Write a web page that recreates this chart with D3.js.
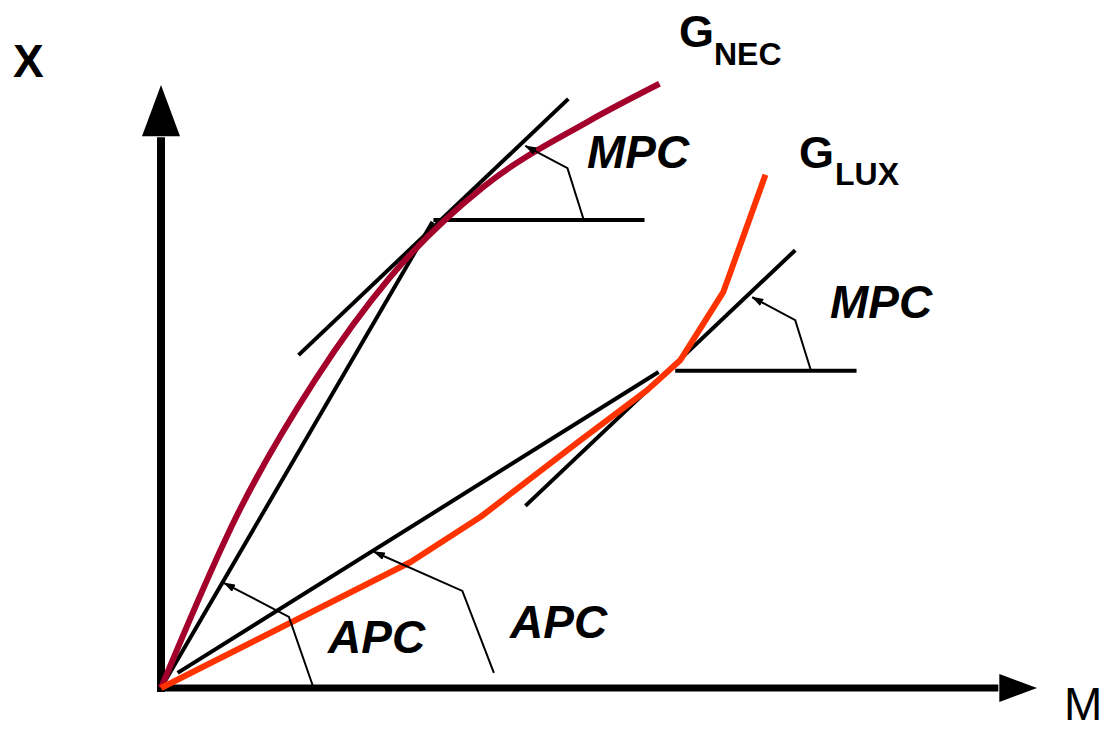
<!DOCTYPE html>
<html>
<head>
<meta charset="utf-8">
<script src="https://cdn.jsdelivr.net/npm/d3@7/dist/d3.min.js"></script>
<style>
  html, body { margin: 0; padding: 0; background: #fff; }
  svg { display: block; font-family: "Liberation Sans", Arial, sans-serif; }
</style>
</head>
<body>
<svg id="chart" width="1113" height="730"></svg>
<script>
/* eslint-env browser */

// Engel curves, M = income (0..100), X = quantity (0..100)
const necM = [0, 8.8, 17.6, 26.2, 36.8, 48.7, 56.9];
const necX = [0, 29.0, 51.1, 68.2, 83.1, 93.9, 100.2];
const luxM = [0, 28.5, 36.5, 47.9, 55.5, 59.3, 64.2, 69.0];
const luxX = [0, 20.9, 28.4, 41.1, 49.4, 54.4, 65.7, 85.1];

// guide segments [[m1, x1], [m2, x2]]
const necRay = [[0, 0], [31.0, 77.3]];
const necTangent = [[15.7, 55.2], [46.5, 97.7]];
const necLevel = [[31.1, 77.6], [55.2, 77.6]];
const luxRay = [[1.9, 2.5], [56.8, 52.4]];
const luxTangent = [[41.6, 30.2], [72.4, 72.6]];
const luxLevel = [[58.7, 52.6], [79.4, 52.6]];

// callout leaders: foot, knee, tip
const leaderMpcNec = [[48.2, 77.9], [46.4, 86.2], [41.6, 89.9]];
const leaderMpcLux = [[74.2, 52.6], [72.4, 61.0], [67.5, 64.8]];
const leaderApcNec = [[17.3, 0.5], [14.6, 11.8], [7.2, 17.4]];
const leaderApcLux = [[38.0, 2.5], [34.4, 16.1], [24.3, 22.6]];

const axisLabels = ['X', 'M'];
const curveNames = ['G', 'NEC', 'G', 'LUX'];
const calloutText = ['MPC', 'MPC', 'APC', 'APC'];

const svg = d3.select('#chart');

/**
 * layout config
 */
const cs = {
  palette: { nec: '#a3002b', lux: '#ff3300', ink: '#000' },
  x: { range: [161, 1037], arrowBase: 95.7, arrowHalf: 14 },
  y: { range: [688, 85], arrowBase: 91.5, arrowHalf: 19 },
};

const x = d3.scaleLinear().domain([0, 100]).range(cs.x.range);
const y = d3.scaleLinear().domain([0, 100]).range(cs.y.range);

const zip = (ms, xs) => ms.map((m, i) => [m, xs[i]]);
const line = d3.line().x(d => x(d[0])).y(d => y(d[1]));

svg.append('defs').append('marker')
  .attr('id', 'tip')
  .attr('viewBox', '0 0 12 8')
  .attr('refX', 11).attr('refY', 4)
  .attr('markerWidth', 12).attr('markerHeight', 8)
  .attr('markerUnits', 'userSpaceOnUse')
  .attr('orient', 'auto')
  .append('path').attr('d', 'M0,0L12,4L0,8z').attr('fill', cs.palette.ink);

// axes
svg.append('line')
  .attr('x1', x(0)).attr('y1', y(0) + 4)
  .attr('x2', x(0)).attr('y2', y(cs.y.arrowBase) + 1)
  .attr('stroke', cs.palette.ink).attr('stroke-width', 8);
svg.append('path')
  .attr('d', `M${x(0)},${y(100)}L${x(0) + cs.y.arrowHalf},${y(cs.y.arrowBase)}L${x(0) - cs.y.arrowHalf},${y(cs.y.arrowBase)}Z`)
  .attr('fill', cs.palette.ink);
svg.append('line')
  .attr('x1', x(0) - 4).attr('y1', y(0))
  .attr('x2', x(cs.x.arrowBase) - 1).attr('y2', y(0))
  .attr('stroke', cs.palette.ink).attr('stroke-width', 7);
svg.append('path')
  .attr('d', `M${x(100)},${y(0)}L${x(cs.x.arrowBase)},${y(0) - cs.x.arrowHalf}L${x(cs.x.arrowBase)},${y(0) + cs.x.arrowHalf}Z`)
  .attr('fill', cs.palette.ink);

// black guides
[necRay, necTangent, necLevel, luxRay, luxTangent, luxLevel].forEach(seg => {
  svg.append('path').attr('d', line(seg))
    .attr('fill', 'none').attr('stroke', cs.palette.ink).attr('stroke-width', 4);
});

// curves
svg.append('path')
  .attr('d', line.curve(d3.curveMonotoneX)(zip(necM, necX)))
  .attr('fill', 'none').attr('stroke', cs.palette.nec).attr('stroke-width', 6)
  .attr('stroke-linejoin', 'round');
svg.append('path')
  .attr('d', line.curve(d3.curveLinear)(zip(luxM, luxX)))
  .attr('fill', 'none').attr('stroke', cs.palette.lux).attr('stroke-width', 6)
  .attr('stroke-linejoin', 'round');

// leaders
[leaderMpcNec, leaderMpcLux, leaderApcNec, leaderApcLux].forEach(pts => {
  svg.append('path').attr('d', line(pts))
    .attr('fill', 'none').attr('stroke', cs.palette.ink).attr('stroke-width', 2)
    .attr('marker-end', 'url(#tip)');
});

// texts
const text = (tx, ty, s, size, weight, style) => svg.append('text')
  .attr('x', tx).attr('y', ty)
  .attr('font-size', size).attr('font-weight', weight || 'bold')
  .attr('font-style', style || 'normal')
  .attr('fill', cs.palette.ink)
  .text(s);

text(13, 77, axisLabels[0], 46);
text(1064, 720, axisLabels[1], 46, 'normal');

text(679, 47, curveNames[0], 45);
text(714, 65, curveNames[1], 32);
text(799, 168, curveNames[2], 45);
text(835, 185, curveNames[3], 32);

text(587, 168, calloutText[0], 46, 'bold', 'italic');
text(830, 318, calloutText[1], 46, 'bold', 'italic');
text(328, 653, calloutText[2], 46, 'bold', 'italic');
text(510, 638, calloutText[3], 46, 'bold', 'italic');
</script>
</body>
</html>
